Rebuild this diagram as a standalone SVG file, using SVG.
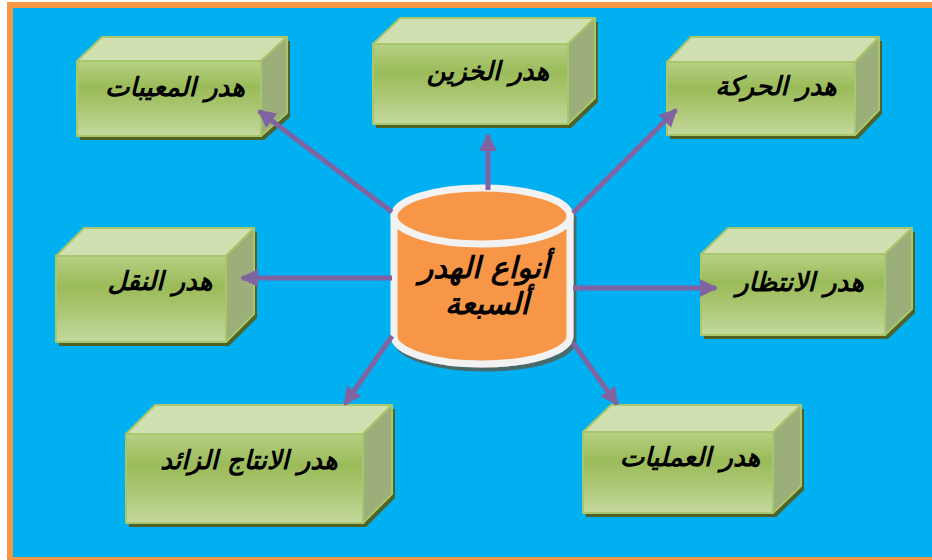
<svg xmlns="http://www.w3.org/2000/svg" width="932" height="560" viewBox="0 0 932 560">
<defs>
<linearGradient id="gFront" x1="0" y1="0" x2="0" y2="1">
<stop offset="0" stop-color="#b7d084"/>
<stop offset="0.35" stop-color="#9bbb59"/>
<stop offset="0.6" stop-color="#a9c56f"/>
<stop offset="1" stop-color="#c4d89d"/>
</linearGradient>
<marker id="ah" markerUnits="userSpaceOnUse" markerWidth="20" markerHeight="20" refX="16" refY="9" orient="auto">
<path d="M0,0 L18,9 L0,18 Z" fill="#8064a2"/>
</marker>
<filter id="sh" x="-10%" y="-10%" width="130%" height="130%">
<feOffset dx="3" dy="4" in="SourceAlpha" result="o"/>
<feFlood flood-color="#4a6b6b"/>
<feComposite in2="o" operator="in" result="s"/>
<feMerge><feMergeNode in="s"/><feMergeNode in="SourceGraphic"/></feMerge>
</filter>
</defs>
<style>
.front{fill:url(#gFront);stroke:#a8c66c;stroke-width:2}
.top{fill:#d1e0b1;stroke:#a8c66c;stroke-width:2;stroke-linejoin:round}
.side{fill:#9cae79;stroke:#a8c66c;stroke-width:2;stroke-linejoin:round}
.shadow{fill:#4f6228}
.lbl{font-family:"DejaVu Sans",sans-serif;font-weight:bold;font-style:italic;font-size:26px;fill:#000;text-anchor:middle}
.clbl{font-family:"DejaVu Sans",sans-serif;font-weight:bold;font-style:italic;font-size:30px;fill:#000;text-anchor:middle}
.conn{stroke:#8064a2;stroke-width:5;fill:none;marker-end:url(#ah)}
</style>
<rect x="7" y="2" width="940" height="570" fill="#f79646"/>
<rect x="13" y="8" width="930" height="549" fill="#00b0f0"/>

<g id="center" filter="url(#sh)">
<path d="M394,216 L394,336 A88,28 0 0 0 570,336 L570,216 Z" fill="#f79646" stroke="#f2f2f2" stroke-width="7"/>
<ellipse cx="482" cy="216" rx="88" ry="28" fill="#f79646" stroke="#f2f2f2" stroke-width="7"/>
</g>
<g id="center-label">
<text class="clbl" x="484" y="278">أنواع الهدر</text>
<text class="clbl" x="487" y="314">ألسبعة</text>
</g>

<g id="box-maibat">
<polygon class="shadow" points="80,65 105,41 290,41 290,117 264,140 80,140"/>
<polygon class="top" points="77,61 102,37 287,37 261,61"/>
<polygon class="side" points="261,61 287,37 287,113 261,136"/>
<rect class="front" x="77" y="61" width="184" height="75"/>
<text class="lbl" x="175" y="96">هدر المعيبات</text>
</g>

<g id="box-khazin">
<polygon class="shadow" points="376,48 403,22 598,22 598,102 571,128 376,128"/>
<polygon class="top" points="373,44 400,18 595,18 568,44"/>
<polygon class="side" points="568,44 595,18 595,98 568,124"/>
<rect class="front" x="373" y="44" width="195" height="80"/>
<text class="lbl" x="488" y="80">هدر الخزين</text>
</g>

<g id="box-haraka">
<polygon class="shadow" points="670,66 694,41 882,41 882,114 858,139 670,139"/>
<polygon class="top" points="667,62 691,37 879,37 855,62"/>
<polygon class="side" points="855,62 879,37 879,110 855,135"/>
<rect class="front" x="667" y="62" width="188" height="73"/>
<text class="lbl" x="776" y="95">هدر الحركة</text>
</g>

<g id="box-naql">
<polygon class="shadow" points="59,260 87,232 257,232 257,318 229,346 59,346"/>
<polygon class="top" points="56,256 84,228 254,228 226,256"/>
<polygon class="side" points="226,256 254,228 254,314 226,342"/>
<rect class="front" x="56" y="256" width="170" height="86"/>
<text class="lbl" x="160" y="290">هدر النقل</text>
</g>

<g id="box-intizar">
<polygon class="shadow" points="704,258 731,232 915,232 915,313 888,339 704,339"/>
<polygon class="top" points="701,254 728,228 912,228 885,254"/>
<polygon class="side" points="885,254 912,228 912,309 885,335"/>
<rect class="front" x="701" y="254" width="184" height="81"/>
<text class="lbl" x="800" y="291">هدر الانتظار</text>
</g>

<g id="box-intaj">
<polygon class="shadow" points="129,438 158,409 395,409 395,498 366,527 129,527"/>
<polygon class="top" points="126,434 155,405 392,405 363,434"/>
<polygon class="side" points="363,434 392,405 392,494 363,523"/>
<rect class="front" x="126" y="434" width="237" height="89"/>
<text class="lbl" x="249" y="469">هدر الانتاج الزائد</text>
</g>

<g id="box-amaliyat">
<polygon class="shadow" points="586,436 614,409 804,409 804,490 776,517 586,517"/>
<polygon class="top" points="583,432 611,405 801,405 773,432"/>
<polygon class="side" points="773,432 801,405 801,486 773,513"/>
<rect class="front" x="583" y="432" width="190" height="81"/>
<text class="lbl" x="690" y="466">هدر العمليات</text>
</g>

<g id="connectors">
<line class="conn" x1="392" y1="212" x2="259" y2="111"/>
<line class="conn" x1="488" y1="190" x2="488" y2="135"/>
<line class="conn" x1="573" y1="213" x2="676" y2="110"/>
<line class="conn" x1="392" y1="278" x2="242" y2="278"/>
<line class="conn" x1="573" y1="288" x2="716" y2="288"/>
<line class="conn" x1="392" y1="336" x2="345" y2="404"/>
<line class="conn" x1="573" y1="343" x2="617" y2="404"/>
</g>
</svg>
